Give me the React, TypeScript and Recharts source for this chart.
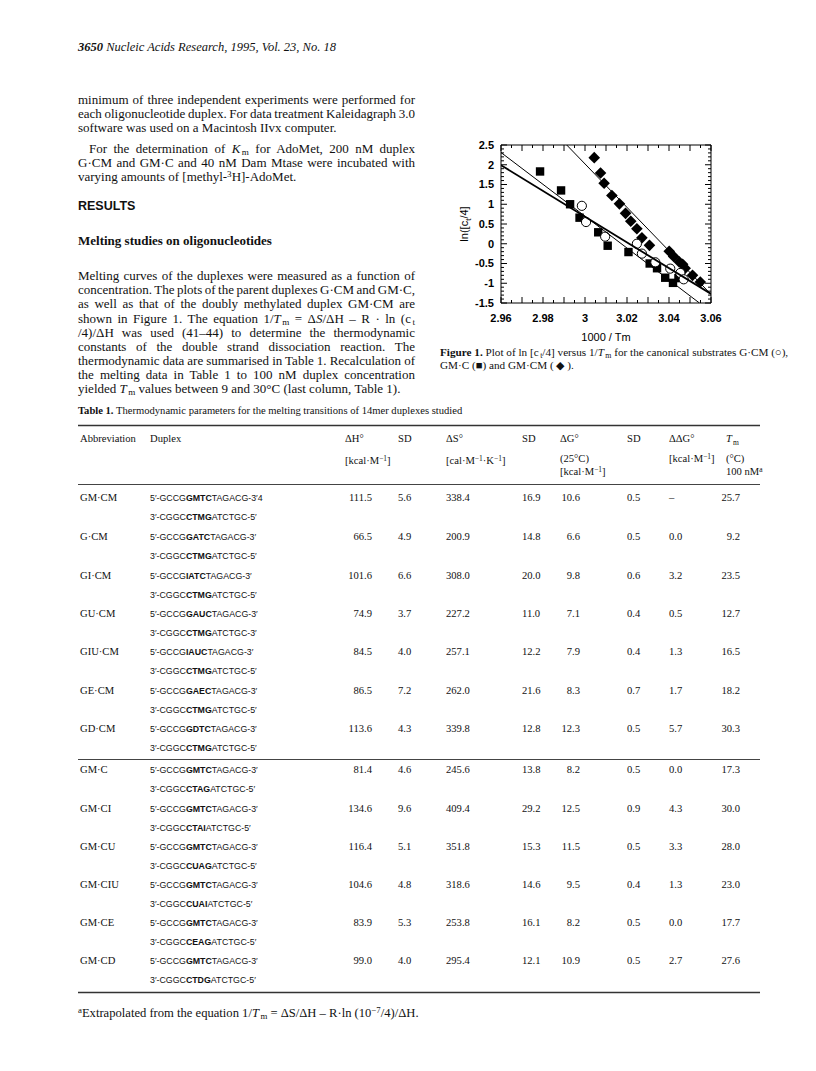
import React from 'react';
import { ScatterChart, Scatter, XAxis, YAxis } from 'recharts';

// ---------- Figure 1 data (1000/Tm vs ln(ct/4)) ----------
const gcmPoints = [
  { x: 2.9985, y: 0.96 }, { x: 3.0005, y: 0.55 }, { x: 3.0096, y: 0.18 },
  { x: 3.0247, y: 0.0 }, { x: 3.0271, y: -0.25 }, { x: 3.0335, y: -0.47 },
  { x: 3.0406, y: -0.63 }, { x: 3.0454, y: -0.74 }, { x: 3.047, y: -0.9 },
];
const gmcPoints = [
  { x: 2.9786, y: 1.83 }, { x: 2.9886, y: 1.35 }, { x: 2.9929, y: 1.0 },
  { x: 2.9974, y: 0.66 }, { x: 3.0063, y: 0.29 }, { x: 3.0108, y: -0.05 },
  { x: 3.0207, y: -0.21 }, { x: 3.0308, y: -0.5 }, { x: 3.0343, y: -0.62 },
  { x: 3.0382, y: -0.86 }, { x: 3.0419, y: -0.99 }, { x: 3.0445, y: -0.87 },
];
const gmcmPoints = [
  { x: 3.0044, y: 2.18 }, { x: 3.0074, y: 1.79 }, { x: 3.0091, y: 1.53 },
  { x: 3.0128, y: 1.22 }, { x: 3.0164, y: 1.01 }, { x: 3.0193, y: 0.77 },
  { x: 3.0218, y: 0.57 }, { x: 3.0247, y: 0.38 }, { x: 3.0271, y: 0.15 },
  { x: 3.0307, y: -0.04 }, { x: 3.0401, y: -0.19 }, { x: 3.0422, y: -0.32 },
  { x: 3.0449, y: -0.46 }, { x: 3.0465, y: -0.52 }, { x: 3.0477, y: -0.62 },
  { x: 3.0512, y: -0.8 }, { x: 3.0549, y: -0.97 },
];
const fitGCM = [{ x: 2.96, y: 1.99 }, { x: 3.06, y: -1.27 }];
const fitGMC = [{ x: 2.96, y: 2.31 }, { x: 3.0545, y: -1.5 }];
const fitGMCM = [{ x: 2.9913, y: 2.5 }, { x: 3.06, y: -1.28 }];

const xDomain = [2.96, 3.06];
const yDomain = [-1.5, 2.5];
const xLabelTicks = [2.96, 2.98, 3, 3.02, 3.04, 3.06];
const xTicks = [2.96, 2.965, 2.97, 2.975, 2.98, 2.985, 2.99, 2.995, 3, 3.005, 3.01, 3.015, 3.02, 3.025, 3.03, 3.035, 3.04, 3.045, 3.05, 3.055, 3.06];
const yLabelTicks = [-1.5, -1, -0.5, 0, 0.5, 1, 1.5, 2, 2.5];
const yTicks = Array.from({ length: 41 }, (_, i) => Math.round((-1.5 + i * 0.1) * 10) / 10);

// ---------- Table 1 data ----------
const abbreviations = ['GM·CM', 'G·CM', 'GI·CM', 'GU·CM', 'GIU·CM', 'GE·CM', 'GD·CM', 'GM·C', 'GM·CI', 'GM·CU', 'GM·CIU', 'GM·CE', 'GM·CD'];
const topCore = ['GMTC', 'GATC', 'IATC', 'GAUC', 'IAUC', 'GAEC', 'GDTC', 'GMTC', 'GMTC', 'GMTC', 'GMTC', 'GMTC', 'GMTC'];
const topEnd = ['TAGACG-3′4', 'TAGACG-3′', 'TAGACG-3′', 'TAGACG-3′', 'TAGACG-3′', 'TAGACG-3′', 'TAGACG-3′', 'TAGACG-3′', 'TAGACG-3′', 'TAGACG-3′', 'TAGACG-3′', 'TAGACG-3′', 'TAGACG-3′'];
const bottomCore = ['CTMG', 'CTMG', 'CTMG', 'CTMG', 'CTMG', 'CTMG', 'CTMG', 'CTAG', 'CTAI', 'CUAG', 'CUAI', 'CEAG', 'CTDG'];
const bottomEnd = ['ATCTGC-5′', 'ATCTGC-5′', 'ATCTGC-5′', 'ATCTGC-3′', 'ATCTGC-5′', 'ATCTGC-5′', 'ATCTGC-5′', 'ATCTGC-5′', 'ATCTGC-5′', 'ATCTGC-5′', 'ATCTGC-5′', 'ATCTGC-5′', 'ATCTGC-5′'];
const dH = ['111.5', '66.5', '101.6', '74.9', '84.5', '86.5', '113.6', '81.4', '134.6', '116.4', '104.6', '83.9', '99.0'];
const sdH = ['5.6', '4.9', '6.6', '3.7', '4.0', '7.2', '4.3', '4.6', '9.6', '5.1', '4.8', '5.3', '4.0'];
const dS = ['338.4', '200.9', '308.0', '227.2', '257.1', '262.0', '339.8', '245.6', '409.4', '351.8', '318.6', '253.8', '295.4'];
const sdS = ['16.9', '14.8', '20.0', '11.0', '12.2', '21.6', '12.8', '13.8', '29.2', '15.3', '14.6', '16.1', '12.1'];
const dG = ['10.6', '6.6', '9.8', '7.1', '7.9', '8.3', '12.3', '8.2', '12.5', '11.5', '9.5', '8.2', '10.9'];
const sdG = ['0.5', '0.5', '0.6', '0.4', '0.4', '0.7', '0.5', '0.5', '0.9', '0.5', '0.4', '0.5', '0.5'];
const ddG = ['–', '0.0', '3.2', '0.5', '1.3', '1.7', '5.7', '0.0', '4.3', '3.3', '1.3', '0.0', '2.7'];
const tm = ['25.7', '9.2', '23.5', '12.7', '16.5', '18.2', '30.3', '17.3', '30.0', '28.0', '23.0', '17.7', '27.6'];

// layout
const rowY = [497, 536, 575, 613, 651, 690, 728, 769, 808, 846, 884, 922, 960];
const SERIF = '"Liberation Serif", "Times New Roman", serif';
const SANS = '"Liberation Sans", Arial, sans-serif';

const near = (arr: number[], v: number) => arr.some((a) => Math.abs(a - v) < 1e-9);
const isMajorX = (v: number) => Math.abs(Math.round(v * 100) - v * 100) < 1e-6;
const isMajorY = (v: number) => Math.abs(Math.round(v * 2) - v * 2) < 1e-6;
const fmt = (v: number) => String(Math.round(v * 100) / 100);

const BottomTick = (p: any) => {
  const v = p.payload.value;
  const len = isMajorX(v) ? 6 : 3;
  return (
    <g>
      <line x1={p.x} x2={p.x} y1={p.y} y2={p.y - len} stroke="#000" strokeWidth={1} />
      {near(xLabelTicks, v) && (
        <text x={p.x} y={p.y + 19} textAnchor="middle" fontFamily={SANS} fontWeight="bold" fontSize={11} fill="#000">
          {fmt(v)}
        </text>
      )}
    </g>
  );
};
const TopTick = (p: any) => {
  const v = p.payload.value;
  const len = isMajorX(v) ? 6 : 3;
  return <line x1={p.x} x2={p.x} y1={p.y} y2={p.y + len} stroke="#000" strokeWidth={1} />;
};
const LeftTick = (p: any) => {
  const v = p.payload.value;
  const len = isMajorY(v) ? 6 : 3;
  return (
    <g>
      <line x1={p.x} x2={p.x + len} y1={p.y} y2={p.y} stroke="#000" strokeWidth={1} />
      {near(yLabelTicks, v) && (
        <text x={p.x - 7} y={p.y} dy="0.36em" textAnchor="end" fontFamily={SANS} fontWeight="bold" fontSize={11} fill="#000">
          {fmt(v)}
        </text>
      )}
    </g>
  );
};
const RightTick = (p: any) => {
  const v = p.payload.value;
  const len = isMajorY(v) ? 6 : 3;
  return <line x1={p.x} x2={p.x - len} y1={p.y} y2={p.y} stroke="#000" strokeWidth={1} />;
};

const SquareShape = (p: any) => <rect x={p.cx - 4.2} y={p.cy - 4.2} width={8.4} height={8.4} fill="#000" />;
const DiamondShape = (p: any) => (
  <polygon points={`${p.cx},${p.cy - 5.8} ${p.cx + 5.8},${p.cy} ${p.cx},${p.cy + 5.8} ${p.cx - 5.8},${p.cy}`} fill="#000" />
);
const CircleShape = (p: any) => <circle cx={p.cx} cy={p.cy} r={4.6} fill="#fff" stroke="#000" strokeWidth={1} />;
const NoShape = () => <g />;

const Figure = () => (
  <ScatterChart width={340} height={242} margin={{ top: 25, right: 59, bottom: 19, left: 31 }}>
    <XAxis xAxisId="b" dataKey="x" type="number" orientation="bottom" domain={xDomain} allowDataOverflow ticks={xTicks} interval={0}
      tickSize={0} tickMargin={0} tickLine={false} height={30} axisLine={{ stroke: '#000', strokeWidth: 1 }} tick={(p: any) => <BottomTick {...p} />} />
    <XAxis xAxisId="t" dataKey="x" type="number" orientation="top" domain={xDomain} allowDataOverflow ticks={xTicks} interval={0}
      tickSize={0} tickMargin={0} tickLine={false} height={10} axisLine={{ stroke: '#000', strokeWidth: 1 }} tick={(p: any) => <TopTick {...p} />} />
    <YAxis yAxisId="l" dataKey="y" type="number" orientation="left" domain={yDomain} allowDataOverflow ticks={yTicks} interval={0}
      tickSize={0} tickMargin={0} tickLine={false} width={30} axisLine={{ stroke: '#000', strokeWidth: 1 }} tick={(p: any) => <LeftTick {...p} />} />
    <YAxis yAxisId="r" dataKey="y" type="number" orientation="right" domain={yDomain} allowDataOverflow ticks={yTicks} interval={0}
      tickSize={0} tickMargin={0} tickLine={false} width={10} axisLine={{ stroke: '#000', strokeWidth: 1 }} tick={(p: any) => <RightTick {...p} />} />
    <Scatter xAxisId="t" yAxisId="r" data={gcmPoints} shape={NoShape} isAnimationActive={false} />
    <Scatter xAxisId="b" yAxisId="l" data={gmcPoints} shape={SquareShape} isAnimationActive={false} />
    <Scatter xAxisId="b" yAxisId="l" data={gmcmPoints} shape={DiamondShape} isAnimationActive={false} />
    <Scatter xAxisId="b" yAxisId="l" data={gcmPoints} shape={CircleShape} isAnimationActive={false} />
    <Scatter xAxisId="b" yAxisId="l" data={fitGMCM} shape={NoShape} line={{ stroke: '#000', strokeWidth: 1 }} isAnimationActive={false} />
    <Scatter xAxisId="b" yAxisId="l" data={fitGMC} shape={NoShape} line={{ stroke: '#000', strokeWidth: 1 }} isAnimationActive={false} />
    <Scatter xAxisId="b" yAxisId="l" data={fitGCM} shape={NoShape} line={{ stroke: '#000', strokeWidth: 1.8 }} isAnimationActive={false} />
    <text x={28} y={114} transform="rotate(-90 28 114)" textAnchor="middle" fontFamily={SANS} fontSize={11} fill="#000">
      ln([c<tspan dy={3} fontSize={8}>t</tspan><tspan dy={-3}>/4]</tspan>
    </text>
    <text x={166} y={231} textAnchor="middle" fontFamily={SANS} fontSize={11} fill="#000">1000 / Tm</text>
  </ScatterChart>
);

// ---------- HTML text helpers ----------
const subStyle: React.CSSProperties = { fontSize: '0.7em', verticalAlign: '-0.25em', lineHeight: 0, marginLeft: 1.5 };
const supStyle: React.CSSProperties = { fontSize: '0.7em', verticalAlign: '0.45em', lineHeight: 0 };
const Sb = ({ children }: any) => <span style={subStyle}>{children}</span>;
const Sp = ({ children }: any) => <span style={supStyle}>{children}</span>;
const I = ({ children }: any) => <span style={{ fontStyle: 'italic' }}>{children}</span>;

const PLine = ({ x = 78, y, w = 337, just = true, size = 13, family = SERIF, weight = 'normal', children }: any) => (
  <div
    style={{
      position: 'absolute', left: x, top: y - 8, width: w, height: 16, lineHeight: '16px',
      fontFamily: family, fontSize: size, fontWeight: weight, color: '#111',
      textAlign: just ? 'justify' : 'left', textAlignLast: just ? 'justify' : 'left',
      wordSpacing: just ? '-2px' : 'normal',
    }}
  >
    {children}
  </div>
);

const T = 10.6; // table font size

export default function App() {
  const hdrX = { dH: 345, sd1: 398, dS: 446, sd2: 522, dG: 560, sd3: 627, ddG: 669, tm: 726 };
  return (
    <div style={{ position: 'absolute', left: 0, top: 0, width: 816, height: 1071, background: '#fff' }}>
      {/* running header */}
      <PLine y={47} w={400} just={false} size={12.5}>
        <I><b>3650</b> Nucleic Acids Research, 1995, Vol. 23, No. 18</I>
      </PLine>

      {/* left column text */}
      <PLine y={100}>minimum of three independent experiments were performed for</PLine>
      <PLine y={114}>each oligonucleotide duplex. For data treatment Kaleidagraph 3.0</PLine>
      <PLine y={128} just={false}>software was used on a Macintosh IIvx computer.</PLine>
      <PLine y={149} x={89} w={326}>For the determination of <I>K</I><Sb>m</Sb> for AdoMet, 200 nM duplex</PLine>
      <PLine y={163}>G·CM and GM·C and 40 nM Dam Mtase were incubated with</PLine>
      <PLine y={177} just={false}>varying amounts of [methyl-<Sp>3</Sp>H]-AdoMet.</PLine>
      <PLine y={206} just={false} family={SANS} weight="bold" size={12.5}>RESULTS</PLine>
      <PLine y={241} just={false} weight="bold">Melting studies on oligonucleotides</PLine>
      <PLine y={276}>Melting curves of the duplexes were measured as a function of</PLine>
      <PLine y={290}>concentration. The plots of the parent duplexes G·CM and GM·C,</PLine>
      <PLine y={304}>as well as that of the doubly methylated duplex GM·CM are</PLine>
      <PLine y={319}>shown in Figure 1. The equation 1/<I>T</I><Sb>m</Sb> = Δ<I>S</I>/ΔH – R · ln (c<Sb>t</Sb></PLine>
      <PLine y={333}>/4)/ΔH was used (41–44) to determine the thermodynamic</PLine>
      <PLine y={347}>constants of the double strand dissociation reaction. The</PLine>
      <PLine y={361}>thermodynamic data are summarised in Table 1. Recalculation of</PLine>
      <PLine y={375}>the melting data in Table 1 to 100 nM duplex concentration</PLine>
      <PLine y={389} just={false}>yielded <I>T</I><Sb>m</Sb> values between 9 and 30°C (last column, Table 1).</PLine>

      {/* figure caption */}
      <PLine x={440} y={352} w={370} just={false} size={11.2}>
        <b>Figure 1.</b> Plot of ln [c<Sb>t</Sb>/4] versus 1/<I>T</I><Sb>m</Sb> for the canonical substrates G·CM (○),
      </PLine>
      <PLine x={440} y={365} w={370} just={false} size={11.2}>GM·C (■) and GM·CM ( ◆ ).</PLine>

      {/* table title */}
      <PLine y={411} w={500} just={false} size={10.6}>
        <b>Table 1.</b> Thermodynamic parameters for the melting transitions of 14mer duplexes studied
      </PLine>

      <svg width={816} height={1071} style={{ position: 'absolute', left: 0, top: 0 }}>
        <line x1={78} x2={760} y1={425.5} y2={425.5} stroke="#333" strokeWidth={1.6} />
        <g fontFamily={SERIF} fontSize={T} fill="#111">
          <text x={80} y={442}>Abbreviation</text>
          <text x={150} y={442}>Duplex</text>
          <text x={hdrX.dH} y={442}>ΔH°</text>
          <text x={hdrX.sd1} y={442}>SD</text>
          <text x={hdrX.dS} y={442}>ΔS°</text>
          <text x={hdrX.sd2} y={442}>SD</text>
          <text x={hdrX.dG} y={442}>ΔG°</text>
          <text x={hdrX.sd3} y={442}>SD</text>
          <text x={hdrX.ddG} y={442}>ΔΔG°</text>
          <text x={hdrX.tm} y={442}><tspan fontStyle="italic">T</tspan><tspan dx={1} dy={2.5} fontSize={7.5}>m</tspan></text>
          <text x={hdrX.dH} y={464}>[kcal·M<tspan dy={-3.5} fontSize={7.5}>−1</tspan><tspan dy={3.5}>]</tspan></text>
          <text x={hdrX.dS} y={464}>[cal·M<tspan dy={-3.5} fontSize={7.5}>−1</tspan><tspan dy={3.5}>·K</tspan><tspan dy={-3.5} fontSize={7.5}>−1</tspan><tspan dy={3.5}>]</tspan></text>
          <text x={hdrX.dG} y={462}>(25°C)</text>
          <text x={hdrX.dG} y={475}>[kcal·M<tspan dy={-3.5} fontSize={7.5}>−1</tspan><tspan dy={3.5}>]</tspan></text>
          <text x={hdrX.ddG} y={462}>[kcal·M<tspan dy={-3.5} fontSize={7.5}>−1</tspan><tspan dy={3.5}>]</tspan></text>
          <text x={hdrX.tm} y={462}>(°C)</text>
          <text x={hdrX.tm} y={475}>100 nM<tspan dy={-3.5} fontSize={7.5}>a</tspan></text>
        </g>
        <line x1={78} x2={760} y1={484.5} y2={484.5} stroke="#444" strokeWidth={1.1} />

        {abbreviations.map((ab, i) => {
          const y = rowY[i] + 3.5;
          const y2 = rowY[i] + 22.5;
          return (
            <g key={ab} fill="#111">
              <g fontFamily={SERIF} fontSize={T}>
                <text x={80} y={y}>{ab}</text>
                <text x={372} y={y} textAnchor="end">{dH[i]}</text>
                <text x={398} y={y}>{sdH[i]}</text>
                <text x={446} y={y}>{dS[i]}</text>
                <text x={522} y={y}>{sdS[i]}</text>
                <text x={580} y={y} textAnchor="end">{dG[i]}</text>
                <text x={627} y={y}>{sdG[i]}</text>
                <text x={669} y={y}>{ddG[i]}</text>
                <text x={740} y={y} textAnchor="end">{tm[i]}</text>
              </g>
              <text x={150} y={y} fontFamily={SANS} fontSize={8.8}>
                5′-GCCG<tspan fontWeight="bold">{topCore[i]}</tspan>{topEnd[i]}
              </text>
              <text x={150} y={y2} fontFamily={SANS} fontSize={8.8}>
                3′-CGGC<tspan fontWeight="bold">{bottomCore[i]}</tspan>{bottomEnd[i]}
              </text>
            </g>
          );
        })}
        <line x1={78} x2={760} y1={759.5} y2={759.5} stroke="#444" strokeWidth={1.1} />
        <line x1={78} x2={760} y1={992.5} y2={992.5} stroke="#333" strokeWidth={1.6} />
      </svg>

      {/* footnote */}
      <PLine y={1013} w={500} just={false} size={12.6}>
        <Sp>a</Sp>Extrapolated from the equation 1/<I>T</I><Sb>m</Sb> = ΔS/ΔH – R·ln (10<Sp>−7</Sp>/4)/ΔH.
      </PLine>

      <div style={{ position: 'absolute', left: 440, top: 110, width: 340, height: 242 }}>
        <Figure />
      </div>
    </div>
  );
}
